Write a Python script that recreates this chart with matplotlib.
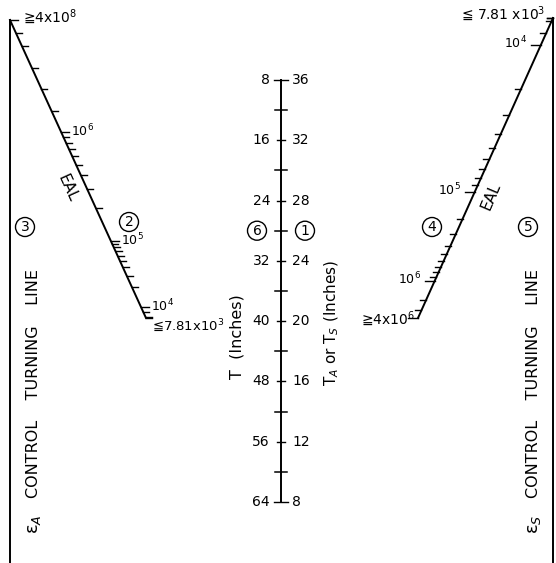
import numpy as np
import matplotlib
matplotlib.use('Agg')
import matplotlib.pyplot as plt

# ------------------------------------------------------------
# DATA
# ------------------------------------------------------------
# centre line: T on the left, TA or TS on the right (inches)
t_labels = [8, 16, 24, 32, 40, 48, 56, 64]
ta_labels = [36, 32, 28, 24, 20, 16, 12, 8]
t_minor = [12, 20, 28, 36, 44, 52, 60]

# EAL scale on the EA side (left, large values on top)
eal_left_ticks = [4e8, 2e8, 1e8, 3e7, 1e7, 3e6,
                  1e6, 9e5, 8e5, 7e5, 6e5, 5e5, 4e5, 3e5, 2e5,
                  1e5, 9e4, 8e4, 7e4, 6e4, 5e4, 4e4, 3e4, 2e4,
                  1e4, 9e3, 8e3, 7.81e3]
eal_left_decades = [1e6, 1e5, 1e4]
eal_left_ends = ['\u2267' + '4x10$^8$', '\u2266' + '7.81x10$^3$']

# EAL scale on the ES side (right, small values on top)
eal_right_ticks = [7.81e3, 8e3, 9e3,
                   1e4, 2e4, 3e4, 4e4, 5e4, 6e4, 7e4, 8e4, 9e4,
                   1e5, 2e5, 3e5, 4e5, 5e5, 6e5, 7e5, 8e5, 9e5,
                   1e6, 2e6, 3e6, 4e6]
eal_right_decades = [1e4, 1e5, 1e6]
eal_right_ends = ['\u2266 7.81 x10$^3$', '\u2267' + '4x10$^6$']

turning_label = 'CONTROL    TURNING    LINE'

# ------------------------------------------------------------
# LAYOUT (pixel space of the 556 x 563 picture)
# ------------------------------------------------------------
W, H = 556, 563
X_LEFT, X_RIGHT, X_MID = 10, 553, 281
LEFT_TOP, LEFT_BOT = (10, 20), (146, 318)
RIGHT_TOP, RIGHT_BOT = (553, 18), (418, 318)
# the EAL scales are not plain log scales: anchors
LEFT_ANCHOR_V = [7.81e3, 1e4, 1e5, 1e6, 4e8]
LEFT_ANCHOR_Y = [318, 307, 241, 132, 20]
RIGHT_ANCHOR_V = [7.81e3, 1e4, 1e5, 1e6, 4e6]
RIGHT_ANCHOR_Y = [18, 45, 192, 281, 318]
T_Y0, T_Y1 = 80, 502

LW = 1.4
plt.rcParams['font.family'] = 'DejaVu Sans'
plt.rcParams['mathtext.fontset'] = 'dejavusans'


def t_to_y(t):
    return T_Y0 + (t - t_labels[0]) / (t_labels[-1] - t_labels[0]) * (T_Y1 - T_Y0)


def eal_to_xy(v, anchors_v, anchors_y, top, bot):
    y = np.interp(np.log10(v), np.log10(anchors_v), anchors_y)
    x = top[0] + (y - top[1]) / (bot[1] - top[1]) * (bot[0] - top[0])
    return x, y


def circled(x, y, s):
    ax.text(x, y, s, ha='center', va='center', fontsize=10,
            bbox=dict(boxstyle='circle,pad=0.18', fc='none', ec='black', lw=1.0))


def vlabel(x, y, s, size):
    ax.text(x, y, s, rotation=90, rotation_mode='anchor',
            ha='left', va='center', fontsize=size)


fig = plt.figure(figsize=(W / 100, H / 100), dpi=100)
ax = fig.add_axes([0, 0, 1, 1])
ax.set_xlim(0, W)
ax.set_ylim(H, 0)
ax.axis('off')

# ---- turning lines --------------------------------------------------
ax.plot([X_LEFT, X_LEFT], [LEFT_TOP[1], H], color='black', lw=LW)
ax.plot([X_RIGHT, X_RIGHT], [RIGHT_TOP[1], H], color='black', lw=LW)
vlabel(34, 534, '\u03b5$_A$', 13)
vlabel(33, 498, turning_label, 11.5)
vlabel(534, 534, '\u03b5$_S$', 13)
vlabel(533, 498, turning_label, 11.5)
circled(25, 227, '3')
circled(528, 227, '5')

# ---- left EAL line --------------------------------------------------
ax.plot([LEFT_TOP[0], LEFT_BOT[0]], [LEFT_TOP[1], LEFT_BOT[1]], color='black', lw=LW)
for v in eal_left_ticks:
    x, y = eal_to_xy(v, LEFT_ANCHOR_V, LEFT_ANCHOR_Y, LEFT_TOP, LEFT_BOT)
    ln = 8 if (v in eal_left_decades or v == eal_left_ticks[0]) else 6
    ax.plot([x, x + ln], [y, y], color='black', lw=1.0)
for v in eal_left_decades:
    x, y = eal_to_xy(v, LEFT_ANCHOR_V, LEFT_ANCHOR_Y, LEFT_TOP, LEFT_BOT)
    ax.text(x + 10, y - 1, '10$^{%d}$' % round(np.log10(v)), ha='left', va='center', fontsize=9)
x, y = eal_to_xy(eal_left_ticks[0], LEFT_ANCHOR_V, LEFT_ANCHOR_Y, LEFT_TOP, LEFT_BOT)
ax.text(x + 13, y - 3, eal_left_ends[0], ha='left', va='center', fontsize=10)
x, y = eal_to_xy(eal_left_ticks[-1], LEFT_ANCHOR_V, LEFT_ANCHOR_Y, LEFT_TOP, LEFT_BOT)
ax.text(x + 6, y + 8, eal_left_ends[1], ha='left', va='center', fontsize=9.5)
ax.text(68, 188, 'EAL', rotation=-65.5, rotation_mode='anchor',
        ha='center', va='center', fontsize=11)
circled(129, 222, '2')

# ---- right EAL line -------------------------------------------------
ax.plot([RIGHT_TOP[0], RIGHT_BOT[0]], [RIGHT_TOP[1], RIGHT_BOT[1]], color='black', lw=LW)
for v in eal_right_ticks:
    x, y = eal_to_xy(v, RIGHT_ANCHOR_V, RIGHT_ANCHOR_Y, RIGHT_TOP, RIGHT_BOT)
    ln = 10 if (v in eal_right_decades or v == eal_right_ticks[-1]) else 6
    ax.plot([x - ln, x], [y, y], color='black', lw=1.0)
for v in eal_right_decades:
    x, y = eal_to_xy(v, RIGHT_ANCHOR_V, RIGHT_ANCHOR_Y, RIGHT_TOP, RIGHT_BOT)
    ax.text(x - 14, y - 2, '10$^{%d}$' % round(np.log10(v)), ha='right', va='center', fontsize=9)
x, y = eal_to_xy(eal_right_ticks[0], RIGHT_ANCHOR_V, RIGHT_ANCHOR_Y, RIGHT_TOP, RIGHT_BOT)
ax.plot([x - 6, x], [y, y], color='black', lw=1.0)
ax.text(x - 8, y - 4, eal_right_ends[0], ha='right', va='center', fontsize=10)
x, y = eal_to_xy(eal_right_ticks[-1], RIGHT_ANCHOR_V, RIGHT_ANCHOR_Y, RIGHT_TOP, RIGHT_BOT)
ax.text(x - 3, y + 1, eal_right_ends[1], ha='right', va='center', fontsize=10)
ax.text(491, 196, 'EAL', rotation=67, rotation_mode='anchor',
        ha='center', va='center', fontsize=11)
circled(432, 227, '4')

# ---- centre T / TA line ---------------------------------------------
ax.plot([X_MID, X_MID], [t_to_y(t_labels[0]), t_to_y(t_labels[-1])], color='black', lw=LW)
for t, ta in zip(t_labels, ta_labels):
    y = t_to_y(t)
    ln = 7 if t in (t_labels[0], t_labels[-1]) else 4
    ax.plot([X_MID - ln, X_MID + ln], [y, y], color='black', lw=1.0)
    ax.text(X_MID - 11, y, str(t), ha='right', va='center', fontsize=10)
    ax.text(X_MID + 11, y, str(ta), ha='left', va='center', fontsize=10)
for t in t_minor:
    y = t_to_y(t)
    ax.plot([X_MID - 6, X_MID + 6], [y, y], color='black', lw=1.1)
circled(257, t_to_y(t_minor[2]), '6')
circled(305, t_to_y(t_minor[2]), '1')
vlabel(237, 379, 'T  (Inches)', 11.5)
vlabel(332, 386, 'T$_A$ or T$_S$ (Inches)', 11)

fig.savefig('out.png', dpi=100)
